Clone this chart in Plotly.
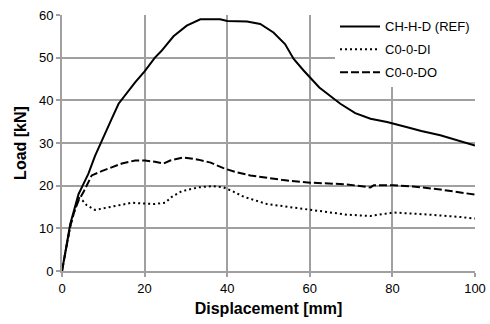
import plotly.graph_objects as go

# CH-H-D (REF)
ref_x = [0, 1, 2, 3, 4, 5, 6.4, 8, 9.6, 10.8, 12, 13.7, 15.5, 17.7, 20, 22.5, 24, 27, 30.2,
         33.5, 36, 38.3, 40, 44.8, 48, 51.2, 54, 56.1, 58.5, 62.3, 67.4, 71, 74.7, 78.7,
         83.6, 87, 91.6, 95, 100]
ref_y = [0, 6, 11, 14.5, 18, 20, 22.8, 27, 30.6, 33, 35.6, 39.2, 41.5, 44.2, 46.8, 50, 51.5,
         55, 57.5, 59, 59, 59, 58.6, 58.5, 57.9, 55.9, 53.2, 49.7, 47, 43, 39.2, 37, 35.7,
         34.9, 33.7, 32.8, 31.8, 30.8, 29.4]

# C0-0-DI
di_x = [0, 1, 2, 3, 4, 5, 6, 8, 11.2, 14, 16.9, 20.1, 22.5, 25, 26.6, 29, 33, 36.3, 39.1,
        41.5, 44, 49.6, 55, 60.1, 65, 69, 74.7, 77, 80.3, 86, 91.6, 96, 100]
di_y = [0, 5.5, 10.5, 14, 17.2, 16.5, 15.4, 14.3, 14.9, 15.4, 16, 15.8, 15.7, 16, 17.4,
        18.7, 19.6, 19.9, 19.6, 18.6, 17.4, 15.7, 15, 14.4, 13.8, 13.2, 12.9, 13.3, 13.7,
        13.4, 13.1, 12.7, 12.3]

# C0-0-DO
do_x = [0, 1, 2, 3, 4, 5.2, 7.2, 9.6, 12, 14.5, 17.7, 20.1, 22.5, 24.6, 26.2, 29.4, 33, 36,
        39.1, 42, 45.6, 50, 53.6, 60.1, 65, 69, 74.7, 75.5, 80.3, 85, 91.6, 96, 100]
do_y = [0, 5.5, 10.5, 14, 16.5, 18.5, 22.4, 23.4, 24.2, 25.2, 25.9, 25.9, 25.6, 25.2, 25.9,
        26.6, 26.1, 25.4, 24.1, 23.2, 22.4, 21.8, 21.3, 20.7, 20.5, 20.3, 19.6, 20.1, 20.1,
        19.8, 19.1, 18.5, 17.9]

x_ticks = [0, 20, 40, 60, 80, 100]
y_ticks = [0, 10, 20, 30, 40, 50, 60]

fig = go.Figure()
fig.add_trace(go.Scatter(x=ref_x, y=ref_y, mode="lines", name="CH-H-D (REF)", legendgroup="a",
                         line=dict(color="black", width=2, dash="solid")))
fig.add_trace(go.Scatter(x=di_x, y=di_y, mode="lines", name="C0-0-DI", legendgroup="b",
                         line=dict(color="black", width=2, dash="2px,3px")))
fig.add_trace(go.Scatter(x=do_x, y=do_y, mode="lines", name="C0-0-DO", legendgroup="c",
                         line=dict(color="black", width=2, dash="8px,3px")))

grid = "#a0a0a0"
fig.update_layout(
    width=490, height=324,
    margin=dict(l=62, r=15, t=14, b=53),
    paper_bgcolor="white", plot_bgcolor="white",
    font=dict(family="Liberation Sans, Arial, sans-serif", size=13, color="black"),
    showlegend=True,
    legend=dict(x=1, y=1.01, xanchor="right", yanchor="top", bgcolor="white",
                borderwidth=0, font=dict(size=13), itemwidth=40,
                traceorder="grouped", tracegroupgap=3),
    xaxis=dict(range=[0, 100], tickvals=x_ticks, showgrid=True, gridcolor=grid,
               gridwidth=2, showline=True, linecolor=grid, linewidth=2, automargin=False,
               ticks="outside", ticklen=4, tickcolor=grid, tickwidth=2, zeroline=False,
               title=dict(text="<b>Displacement [mm]</b>", standoff=8)),
    yaxis=dict(range=[0, 60], tickvals=y_ticks, showgrid=True, gridcolor=grid,
               gridwidth=2, showline=True, linecolor=grid, linewidth=2, automargin=False,
               ticks="outside", ticklen=4, tickcolor=grid, tickwidth=2, zeroline=False,
               title=dict(text="<b>Load [kN]</b>", standoff=8)),
)

fig.write_html("out.html")
